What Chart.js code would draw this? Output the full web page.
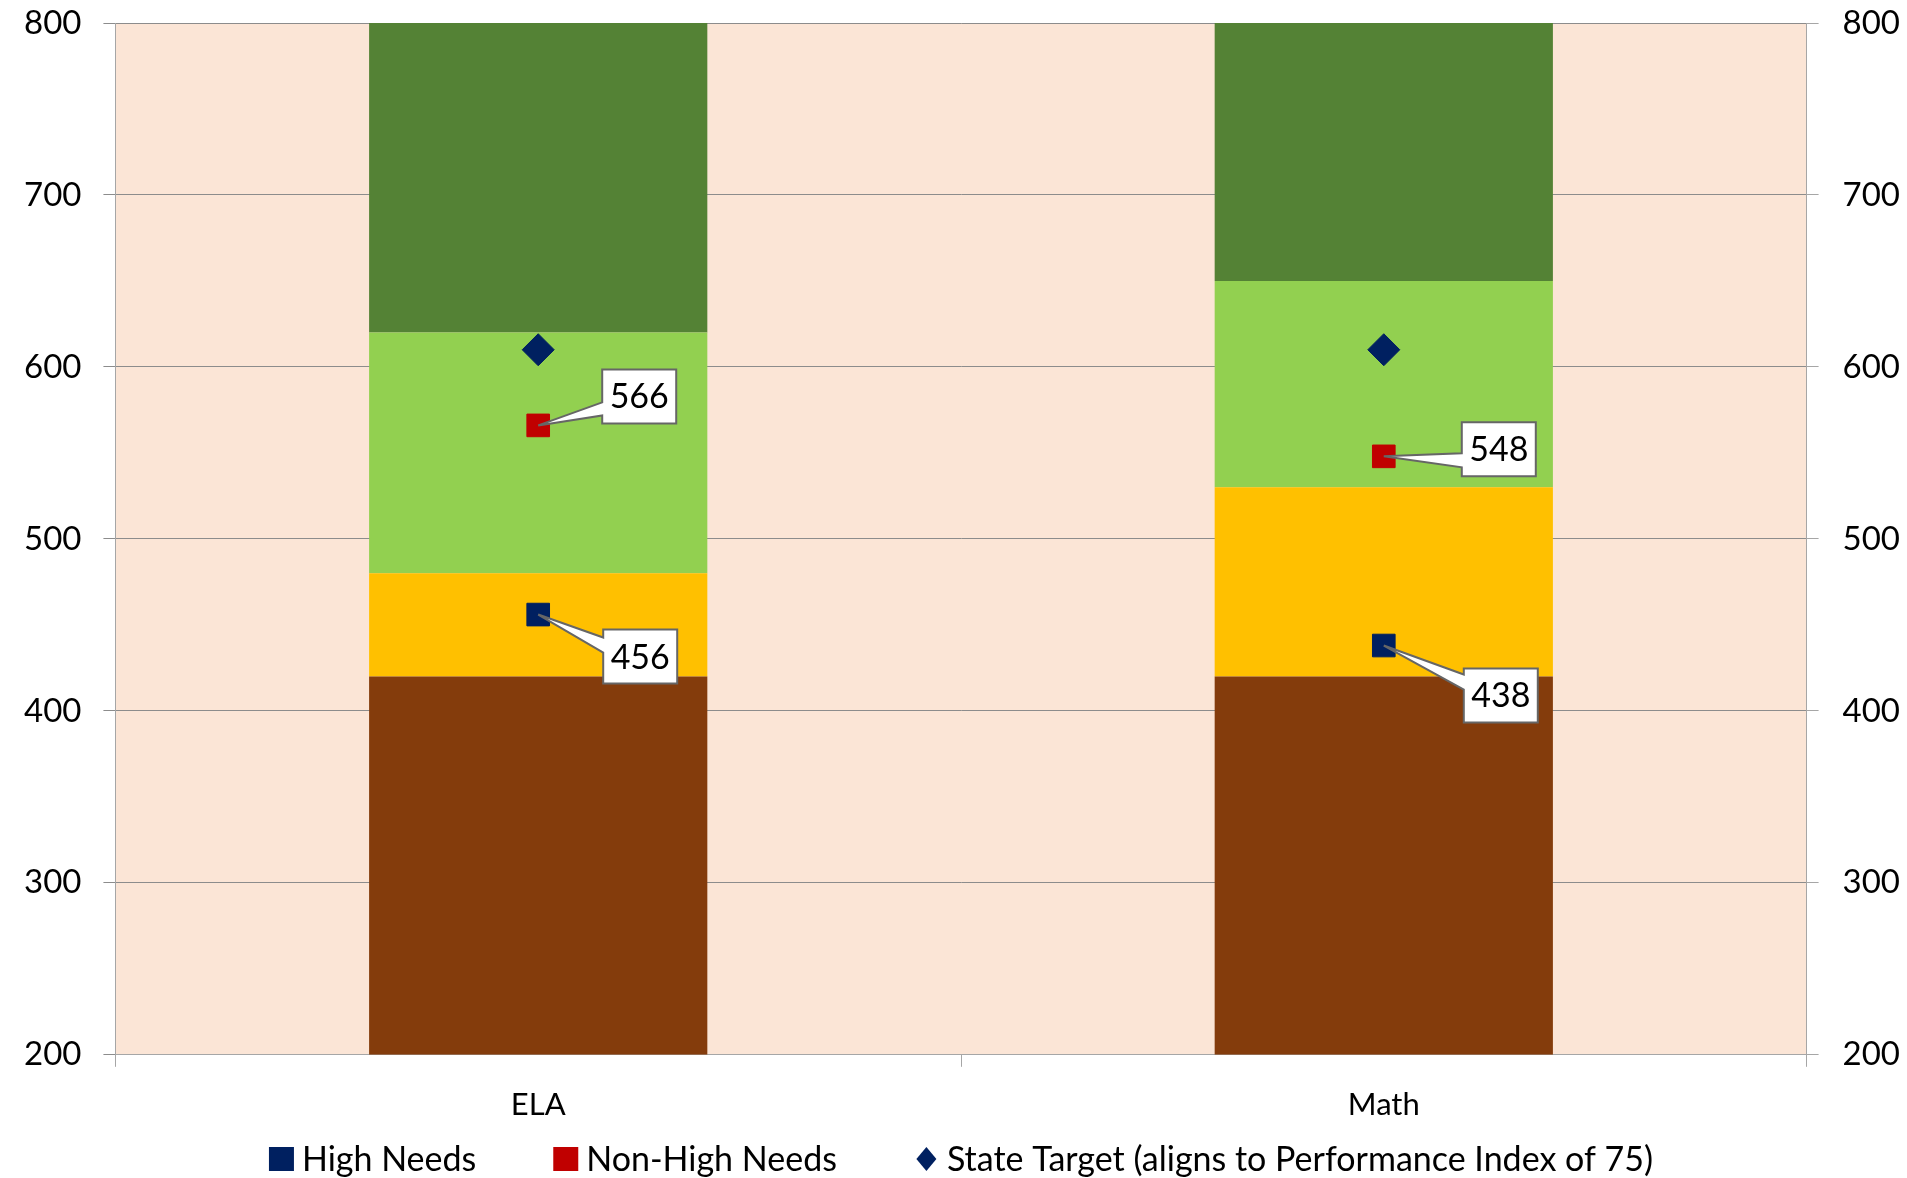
<!DOCTYPE html>
<html>
<head>
<meta charset="utf-8">
<script src="https://cdn.jsdelivr.net/npm/chart.js@4"></script>
<style>
  html, body { margin: 0; padding: 0; background: #fff; }
  #wrap { width: 1907px; height: 1178px; }
</style>
</head>
<body>
<div id="wrap"><canvas id="myChart" width="1907" height="1178"></canvas></div>
<script>
const categories = ['ELA', 'Math'];

// performance bands (bottom/top of each band)
const bandFloor = [200, 200];
const warningTop = [420, 420];
const needsImprovementTop = [480, 530];
const proficientTop = [620, 650];
const advancedTop = [800, 800];

const highNeeds = [456, 438];
const nonHighNeeds = [566, 548];
const stateTarget = [610, 610];

const yTicks = [200, 300, 400, 500, 600, 700, 800];

function band(lo, hi) {
    return lo.map((v, i) => [v, hi[i]]);
}

// callout boxes: offset of the box from its point, and where the pointer meets it
const callouts = [
    { ds: 5, idx: 0, dx: 64, dy: -56, a: 33, b: 46 },
    { ds: 4, idx: 0, dx: 65, dy: 15, a: 8, b: 23 },
    { ds: 5, idx: 1, dx: 78, dy: -34, a: 31, b: 45 },
    { ds: 4, idx: 1, dx: 80, dy: 23, a: 6, b: 21 },
];

const calloutPlugin = {
    id: 'callouts',
    afterDatasetsDraw(chart) {
        const ctx = chart.ctx;
        ctx.save();
        callouts.forEach(c => {
            const pt = chart.getDatasetMeta(c.ds).data[c.idx];
            const val = chart.data.datasets[c.ds].data[c.idx];
            const w = 74, h = 54;
            const x0 = pt.x + c.dx, y0 = pt.y + c.dy;
            ctx.beginPath();
            ctx.moveTo(x0, y0);
            ctx.lineTo(x0 + w, y0);
            ctx.lineTo(x0 + w, y0 + h);
            ctx.lineTo(x0, y0 + h);
            ctx.lineTo(x0, y0 + c.b);
            ctx.lineTo(pt.x, pt.y);
            ctx.lineTo(x0, y0 + c.a);
            ctx.closePath();
            ctx.fillStyle = '#ffffff';
            ctx.fill();
            ctx.lineWidth = 2;
            ctx.strokeStyle = '#666666';
            ctx.stroke();
            ctx.fillStyle = '#000000';
            ctx.font = '34px Lato';
            ctx.textAlign = 'center';
            ctx.textBaseline = 'middle';
            ctx.fillText(String(val), x0 + w / 2, y0 + h / 2 + 1);
        });
        ctx.restore();
    }
};

const plotBg = {
    id: 'plotBg',
    beforeDraw(chart) {
        const a = chart.chartArea;
        chart.ctx.save();
        chart.ctx.fillStyle = '#FBE5D6';
        chart.ctx.fillRect(a.left, a.top, a.right - a.left, a.bottom - a.top);
        chart.ctx.restore();
    }
};

// legend for the marker series, drawn under the x axis
const markerLegend = {
    id: 'markerLegend',
    afterDraw(chart) {
        const ctx = chart.ctx;
        const items = chart.data.datasets.filter(d => d.type === 'line');
        const gapText = 8, gapItem = 77, mark = 25;
        ctx.save();
        ctx.font = '34px Lato';
        ctx.textBaseline = 'middle';
        ctx.textAlign = 'left';
        const widths = items.map(d => mark + gapText + ctx.measureText(d.label).width);
        const total = widths.reduce((s, w) => s + w, 0) + gapItem * (items.length - 1);
        let x = (chart.chartArea.left + chart.chartArea.right) / 2 - total / 2;
        const y = 1159;
        items.forEach((d, i) => {
            ctx.fillStyle = d.backgroundColor;
            ctx.beginPath();
            if (d.pointStyle === 'rectRot') {
                const cx = x + mark / 2;
                ctx.moveTo(cx, y - 12); ctx.lineTo(cx + 10, y); ctx.lineTo(cx, y + 12); ctx.lineTo(cx - 10, y);
                ctx.closePath();
            } else {
                ctx.rect(x, y - 12, mark, 24);
            }
            ctx.fill();
            ctx.fillStyle = '#000000';
            ctx.fillText(d.label, x + mark + gapText, y + 1);
            x += widths[i] + gapItem;
        });
        ctx.restore();
    }
};

// let the outer tick labels hang into the layout padding
function noEdgePadding(s) {
    s.paddingTop = 0;
    s.paddingBottom = 0;
}

Chart.defaults.font.family = 'Lato';
Chart.defaults.font.size = 33;
Chart.defaults.color = '#000000';

const data = {
    labels: categories,
    datasets: [
        { type: 'bar', order: 1, label: 'Warning', data: band(bandFloor, warningTop), backgroundColor: '#843C0C' },
        { type: 'bar', order: 1, label: 'Needs Improvement', data: band(warningTop, needsImprovementTop), backgroundColor: '#FFC000' },
        { type: 'bar', order: 1, label: 'Proficient', data: band(needsImprovementTop, proficientTop), backgroundColor: '#92D050' },
        { type: 'bar', order: 1, label: 'Advanced', data: band(proficientTop, advancedTop), backgroundColor: '#548235' },
        {
            type: 'line', order: 0, label: 'High Needs', data: highNeeds, showLine: false,
            pointStyle: 'rect', pointRadius: 16, pointHoverRadius: 16,
            backgroundColor: '#002060', borderColor: '#002060', borderWidth: 1
        },
        {
            type: 'line', order: 0, label: 'Non-High Needs', data: nonHighNeeds, showLine: false,
            pointStyle: 'rect', pointRadius: 16, pointHoverRadius: 16,
            backgroundColor: '#C00000', borderColor: '#C00000', borderWidth: 1
        },
        {
            type: 'line', order: 0, label: 'State Target (aligns to Performance Index of 75)', data: stateTarget, showLine: false,
            pointStyle: 'rectRot', pointRadius: 16, pointHoverRadius: 16,
            backgroundColor: '#002060', borderColor: '#002060', borderWidth: 1
        }
    ]
};

const config = {
    data: data,
    options: {
        responsive: false,
        animation: false,
        layout: { padding: { left: 2, right: -17, top: 23, bottom: 34 } },
        datasets: { bar: { barPercentage: 0.4, categoryPercentage: 1.0 } },
        plugins: {
            tooltip: { enabled: false },
            legend: { display: false }
        },
        scales: {
            x: {
                stacked: true,
                grid: { offset: true, drawOnChartArea: false, drawTicks: true, tickLength: 12, color: '#A6A6A6' },
                border: { color: '#A6A6A6' },
                ticks: { padding: 20, font: { size: 31 } }
            },
            y: {
                position: 'left',
                min: 200, max: 800,
                afterBuildTicks: s => { s.ticks = yTicks.map(v => ({ value: v })); },
                afterFit: noEdgePadding,
                grid: { color: '#8C8C8C', tickLength: 12 },
                border: { color: '#A6A6A6' },
                ticks: { padding: 22 }
            },
            y2: {
                position: 'right',
                min: 200, max: 800,
                afterBuildTicks: s => { s.ticks = yTicks.map(v => ({ value: v })); },
                afterFit: noEdgePadding,
                grid: { drawOnChartArea: false, color: '#A6A6A6', tickLength: 12 },
                border: { color: '#A6A6A6' },
                ticks: { padding: 24 }
            }
        }
    },
    plugins: [plotBg, calloutPlugin, markerLegend]
};

const myChart = new Chart(document.getElementById('myChart'), config);
</script>
</body>
</html>
